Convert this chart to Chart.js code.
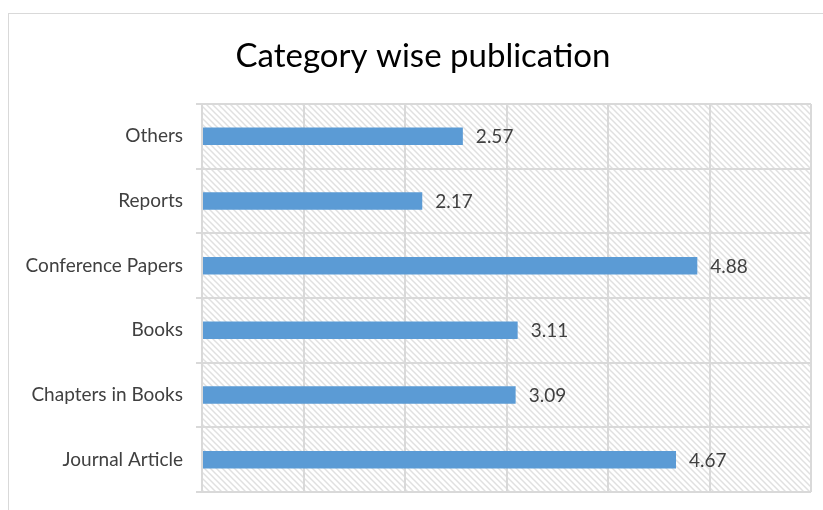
<!DOCTYPE html>
<html>
<head>
<meta charset="utf-8">
<script src="https://cdn.jsdelivr.net/npm/chart.js@4.4.0/dist/chart.umd.min.js"></script>
<style>
  html, body { margin: 0; padding: 0; background: #fff; overflow: hidden; }
  #wrap { width: 823px; height: 510px; position: relative; }
</style>
</head>
<body>
<div id="wrap"><canvas id="chart"></canvas></div>
<script>
// ====== Data ======
const chartTitle = "Category wise publication";
const categories = ["Others", "Reports", "Conference Papers", "Books", "Chapters in Books", "Journal Article"];
const values = [2.57, 2.17, 4.88, 3.11, 3.09, 4.67];
const xTicks = [0, 1, 2, 3, 4, 5, 6];

const FONT = "Lato, 'Open Sans', sans-serif";

// ====== Hatched plot background ======
function makeHatch() {
  const c = document.createElement("canvas");
  c.width = 6; c.height = 6;
  const g = c.getContext("2d");
  g.fillStyle = "#ffffff";
  g.fillRect(0, 0, 6, 6);
  g.strokeStyle = "#e0e0e0";
  g.lineWidth = 1.5;
  g.beginPath();
  g.moveTo(-1, -1); g.lineTo(7, 7);
  g.moveTo(-4, 2); g.lineTo(4, 10);
  g.moveTo(2, -4); g.lineTo(10, 4);
  g.stroke();
  return g.createPattern(c, "repeat");
}

const framePlugin = {
  id: "frame",
  beforeDraw(chart) {
    const { ctx, chartArea: a } = chart;
    ctx.save();
    ctx.fillStyle = "#fff";
    ctx.fillRect(0, 0, chart.width, chart.height);
    ctx.strokeStyle = "#d9d9d9";
    ctx.lineWidth = 1;
    ctx.strokeRect(8.5, 13.5, 900, 600);
    ctx.fillStyle = makeHatch();
    ctx.fillRect(a.left, a.top, a.right - a.left, a.bottom - a.top);
    // title
    ctx.fillStyle = "#000";
    ctx.font = "33px " + FONT;
    ctx.textAlign = "center";
    ctx.textBaseline = "alphabetic";
    ctx.fillText(chartTitle, 423, 67);
    ctx.restore();
  }
};

const valueLabels = {
  id: "valueLabels",
  afterDatasetsDraw(chart) {
    const { ctx } = chart;
    const meta = chart.getDatasetMeta(0);
    ctx.save();
    ctx.fillStyle = "#404040";
    ctx.font = "19px " + FONT;
    ctx.textAlign = "left";
    ctx.textBaseline = "middle";
    meta.data.forEach((bar, i) => {
      ctx.fillText(values[i].toFixed(2), bar.x + 13, bar.y + 1);
    });
    ctx.restore();
  }
};

// ====== Chart ======
const ctx = document.getElementById("chart").getContext("2d");
const chart = new Chart(ctx, {
  type: "bar",
  data: {
    labels: categories,
    datasets: [{
      data: values,
      backgroundColor: "#5b9bd5",
      borderWidth: 0,
      categoryPercentage: 1,
      barPercentage: 0.27
    }]
  },
  options: {
    indexAxis: "y",
    responsive: true,
    maintainAspectRatio: false,
    animation: false,
    layout: { padding: { top: 104, right: 12, bottom: 18, left: 0 } },
    plugins: {
      legend: { display: false },
      title: { display: false },
      tooltip: { enabled: false }
    },
    scales: {
      x: {
        min: 0, max: 6,
        afterBuildTicks: (s) => { s.ticks = xTicks.map(v => ({ value: v })); },
        afterFit: (s) => { s.height = 0; s.paddingLeft = 0; s.paddingRight = 0; },
        ticks: { display: false },
        grid: { color: "#d9d9d9", lineWidth: 2, drawTicks: false },
        border: { display: false }
      },
      y: {
        afterFit: (s) => { s.width = 202; s.paddingTop = 0; s.paddingBottom = 0; },
        ticks: { color: "#404040", font: { family: FONT, size: 19 }, padding: 13 },
        grid: { color: "#d9d9d9", lineWidth: 2, offset: true, tickLength: 6 },
        border: { color: "#d9d9d9", width: 2 }
      }
    }
  },
  plugins: [framePlugin, valueLabels]
});
</script>
</body>
</html>
